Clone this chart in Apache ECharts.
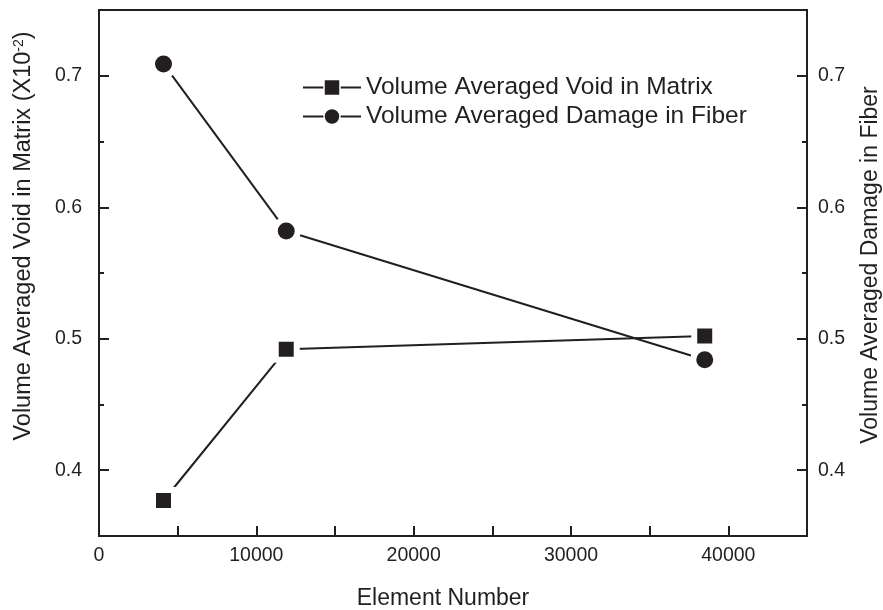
<!DOCTYPE html>
<html>
<head>
<meta charset="utf-8">
<script src="https://cdn.jsdelivr.net/npm/echarts@6/dist/echarts.min.js"></script>
<style>
  html, body { margin: 0; padding: 0; background: #fff; }
  #chart { width: 883px; height: 610px; }
</style>
</head>
<body>
<div id="chart"></div>
<script>
// Mesh study: element count vs. volume-averaged void (matrix) and damage (fiber)
const elementNumber = [4100, 11900, 38500];
const voidInMatrix = [0.377, 0.492, 0.502];
const damageInFiber = [0.709, 0.582, 0.484];

const xTicks = { min: 0, max: 45000, step: 5000, labelStep: 10000 };
const yMajorTicks = [0.4, 0.5, 0.6, 0.7];
const yMinorTicks = [0.35, 0.45, 0.55, 0.65, 0.75];
const yRange = { min: 0.35, max: 0.75 };

const ink = '#231f20';
const font = "'Liberation Sans', Arial, Helvetica, sans-serif";

function yAxisPair(side, title, titleGap, titleSize, titlePad, labelMargin) {
  const main = {
    type: 'value',
    position: side,
    min: yRange.min,
    max: yRange.max,
    name: title,
    nameLocation: 'middle',
    nameGap: titleGap,
    nameRotate: 90,
    nameTextStyle: {
      fontFamily: font, fontSize: titleSize, color: ink, padding: titlePad,
      rich: { sup: { fontFamily: font, fontSize: 14, color: ink, verticalAlign: 'top', padding: [0, 0, 9, 0] } }
    },
    axisLine: { show: true, lineStyle: { color: ink, width: 2 } },
    axisTick: { show: true, inside: true, length: 10, customValues: yMajorTicks, lineStyle: { color: ink, width: 2 } },
    axisLabel: { show: true, customValues: yMajorTicks, margin: labelMargin, fontFamily: font, fontSize: 19.5, color: ink,
      formatter: v => v.toFixed(1) },
    splitLine: { show: false }
  };
  const minor = {
    type: 'value',
    position: side,
    min: yRange.min,
    max: yRange.max,
    axisLine: { show: false },
    axisTick: { show: true, inside: true, length: 5, customValues: yMinorTicks, lineStyle: { color: ink, width: 2 } },
    axisLabel: { show: false },
    splitLine: { show: false }
  };
  return [main, minor];
}

const [leftMain, leftMinor] = yAxisPair('left', 'Volume Averaged Void in Matrix (X10{sup|-2})', 63, 23.5, [0, 0, 0, 74], 17);
const [rightMain, rightMinor] = yAxisPair('right', 'Volume Averaged Damage in Fiber', 52, 23, [0, 0, 0, 16], 11);

function seriesOf(name, values, axisIndex, symbol, size) {
  return {
    name: name,
    type: 'line',
    yAxisIndex: axisIndex,
    data: elementNumber.map((x, i) => [x, values[i]]),
    symbol: symbol,
    symbolSize: size,
    showAllSymbol: true,
    lineStyle: { color: ink, width: 2 },
    itemStyle: { color: ink, borderColor: '#fff', borderWidth: 6 },
    emphasis: { disabled: true },
    animation: false
  };
}

const option = {
  backgroundColor: '#fff',
  animation: false,
  grid: {
    left: 99, right: 76, top: 10, bottom: 74,
    containLabel: false,
    outerBoundsMode: 'none',
    show: true, borderColor: ink, borderWidth: 2, backgroundColor: 'transparent'
  },
  legend: {
    orient: 'vertical',
    left: 297,
    top: 70,
    itemWidth: 58,
    itemHeight: 20,
    itemGap: 4,
    textStyle: { fontFamily: font, fontSize: 24.5, color: ink, padding: [0, 0, 0, 0] },
    itemStyle: { borderWidth: 1.5 },
    selectedMode: false
  },
  xAxis: {
    type: 'value',
    min: xTicks.min,
    max: xTicks.max,
    interval: xTicks.step,
    name: 'Element Number',
    nameLocation: 'middle',
    nameGap: 51,
    nameTextStyle: { fontFamily: font, fontSize: 23, color: ink, padding: [0, 20, 0, 0] },
    axisLine: { show: true, lineStyle: { color: ink, width: 2 } },
    axisTick: { show: true, inside: true, length: 10, lineStyle: { color: ink, width: 2 } },
    axisLabel: {
      margin: 10, fontFamily: font, fontSize: 19.5, color: ink,
      formatter: v => (v % xTicks.labelStep === 0 ? String(v) : '')
    },
    splitLine: { show: false }
  },
  yAxis: [leftMain, rightMain, leftMinor, rightMinor],
  series: [
    seriesOf('Volume Averaged Void in Matrix', voidInMatrix, 0, 'rect', 21),
    seriesOf('Volume Averaged Damage in Fiber', damageInFiber, 1, 'circle', 23)
  ]
};

const chart = echarts.init(document.getElementById('chart'), null, { renderer: 'canvas' });
chart.setOption(option);
</script>
</body>
</html>
